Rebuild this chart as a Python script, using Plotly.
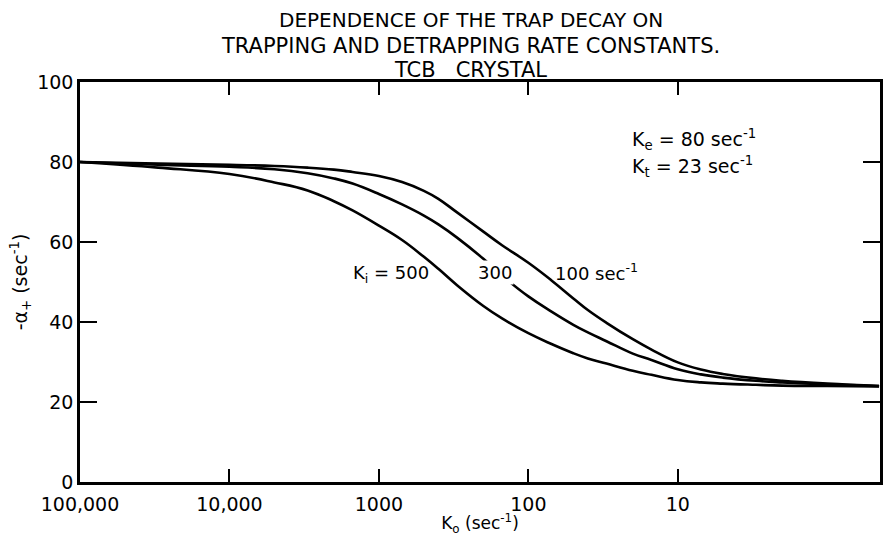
import plotly.graph_objects as go

# Data
k0 = [100000, 30000, 10000, 5000, 3000, 2000, 1500, 1000, 700, 500, 400, 300,
      200, 150, 100, 70, 50, 40, 30, 20, 15, 10, 7, 5, 3, 2, 1, 0.45]
alpha_ki500 = [80, 78.6, 77, 74.9, 72.9, 70.2, 67.9, 64.1, 60.5, 56.3, 53.3, 49.2,
               44.0, 40.9, 37.2, 34.5, 32.2, 30.9, 29.6, 27.8, 26.8, 25.5, 24.9,
               24.6, 24.3, 24.1, 24, 23.9]
alpha_ki300 = [80, 79.3, 78.8, 78.2, 77.2, 75.9, 74.6, 72.0, 69.4, 66.6, 64.4, 61.1,
               55.8, 51.6, 46.4, 42.6, 39.3, 37.4, 35.2, 32.1, 30.5, 28.2, 26.9,
               26.1, 25.3, 24.9, 24.4, 24]
alpha_ki100 = [80, 79.6, 79.3, 79.0, 78.6, 78.1, 77.5, 76.5, 75.0, 72.8, 70.8, 67.4,
               62.6, 59.2, 54.8, 50.4, 45.9, 43.0, 39.8, 35.7, 33.1, 29.9, 28.1,
               27.0, 25.9, 25.3, 24.6, 24]

x_tickvals = [100000, 10000, 1000, 100, 10]
x_ticktext = ["100,000", "10,000", "1000", "100", "10"]
y_tickvals = [0, 20, 40, 60, 80, 100]

FONT = "DejaVu Sans"

fig = go.Figure()
for ys in (alpha_ki500, alpha_ki300, alpha_ki100):
    fig.add_trace(go.Scatter(x=k0, y=ys, mode="lines",
                             line=dict(color="black", width=2.6, shape="spline", smoothing=1.2),
                             showlegend=False, hoverinfo="skip"))

fig.update_layout(
    width=884, height=536,
    margin=dict(l=80, r=1, t=82, b=54),
    paper_bgcolor="white", plot_bgcolor="white",
    font=dict(family=FONT, color="black", size=18),
    showlegend=False,
)

fig.update_xaxes(
    type="log", range=[5, -0.353], autorange=False,
    tickvals=x_tickvals, ticktext=x_ticktext,
    ticks="inside", ticklen=13, tickwidth=2, tickcolor="black",
    showline=True, linecolor="black", linewidth=2.6, mirror="ticks",
    showgrid=False, zeroline=False,
    tickfont=dict(size=19, family=FONT), ticklabelstandoff=3,
    title=dict(text="K<sub>o</sub> (sec<sup>-1</sup>)", font=dict(size=17, family=FONT), standoff=7),
)
fig.update_yaxes(
    range=[0, 100], autorange=False,
    tickvals=y_tickvals,
    ticks="inside", ticklen=17, tickwidth=2, tickcolor="black",
    showline=True, linecolor="black", linewidth=2.6, mirror="ticks",
    showgrid=False, zeroline=False,
    tickfont=dict(size=19, family=FONT),
    title=dict(text="-α<sub>+</sub> (sec<sup>-1</sup>)", font=dict(size=19, family=FONT), standoff=5),
)

title_lines = ["DEPENDENCE OF THE TRAP DECAY ON",
               "TRAPPING AND DETRAPPING RATE CONSTANTS.",
               "TCB   CRYSTAL"]
title_y = [20, 46, 70]
title_sz = [20, 21, 21]
for txt, py, fs in zip(title_lines, title_y, title_sz):
    fig.add_annotation(text=txt, xref="paper", yref="paper",
                       x=(472 - 80) / 803, y=(482 - py) / 400,
                       xanchor="center", yanchor="middle", showarrow=False,
                       font=dict(size=fs, family=FONT))

labels = [
    ("K<sub>e</sub> = 80 sec<sup>-1</sup>", 632, 139, "left", None, 19),
    ("K<sub>t</sub> = 23 sec<sup>-1</sup>", 632, 166, "left", None, 19),
    ("K<sub>i</sub> = 500", 432, 274, "right", None, 18),
    ("300", 497, 272, "center", "white", 18),
    ("100 sec<sup>-1</sup>", 555, 272, "left", None, 18),
]
for txt, px, py, xa, bg, fs in labels:
    kw = dict(bgcolor=bg) if bg else {}
    fig.add_annotation(text=txt, xref="paper", yref="paper",
                       x=(px - 80) / 803, y=(482 - py) / 400,
                       xanchor=xa, yanchor="middle", showarrow=False,
                       font=dict(size=fs, family=FONT), **kw)

fig.write_html("out.html")
